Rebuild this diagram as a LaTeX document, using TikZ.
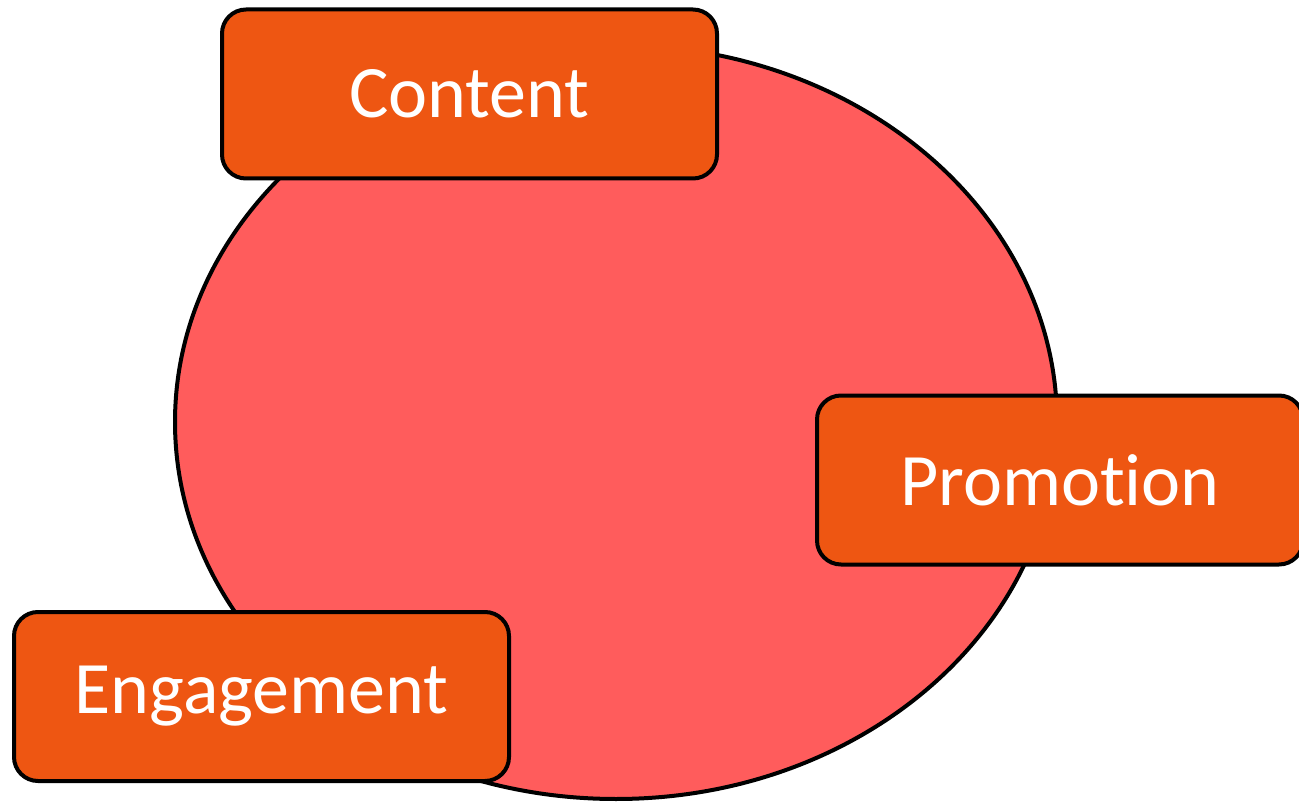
\documentclass[tikz,border=0pt]{standalone}
\usepackage{fontspec}
\setmainfont[Ligatures=NoCommon]{Carlito}
\usepackage{tikz}
\definecolor{ringred}{HTML}{FF5C5C}
\definecolor{boxorange}{HTML}{EE5612}

\begin{document}
\begin{tikzpicture}[x=1pt, y=-1pt,
  phase/.style={draw=black, line width=4pt, fill=boxorange, rounded corners=24pt,
    minimum width=495pt, minimum height=169pt, text=white,
    font=\fontsize{74}{80}\selectfont, inner sep=0pt}]
  \useasboundingbox (0,0) rectangle (1299,802);
  \draw[black, line width=4pt, fill=ringred] (616,422) ellipse [x radius=441, y radius=377];
  \node[phase] (content) at (469.5,94) {Content};
  \node[phase, minimum width=486pt] (promotion) at (1060,480) {Promotion};
  \node[phase] (engagement) at (261.5,696.5) {Engagement};
\end{tikzpicture}
\end{document}
